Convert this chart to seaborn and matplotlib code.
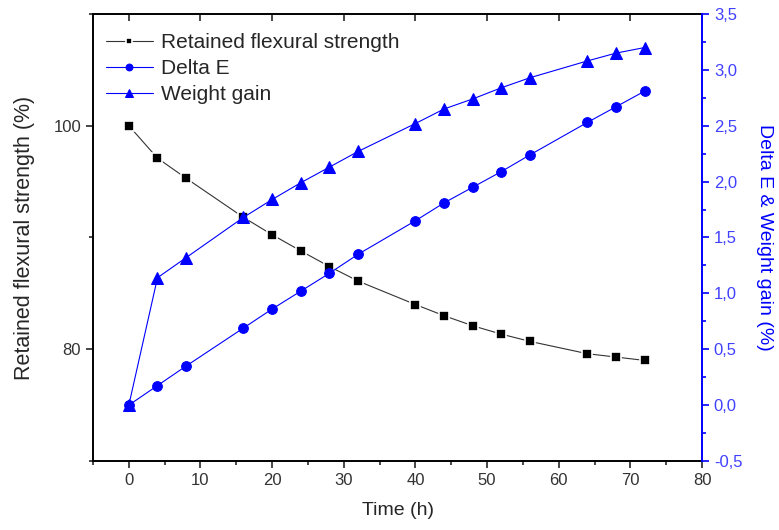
import matplotlib
matplotlib.use("Agg")
import matplotlib.pyplot as plt
import seaborn as sns
from matplotlib.ticker import MultipleLocator, FuncFormatter

# datos
tiempo = [0, 4, 8, 16, 20, 24, 28, 32, 40, 44, 48, 52, 56, 64, 68, 72]
resistencia = [100.0, 97.1, 95.3, 91.8, 90.25, 88.8, 87.4, 86.1, 84.0, 83.0, 82.1, 81.35, 80.7, 79.6, 79.3, 79.0]
delta_e = [0.0, 0.175, 0.35, 0.69, 0.86, 1.02, 1.18, 1.35, 1.65, 1.81, 1.95, 2.09, 2.24, 2.53, 2.67, 2.81]
ganancia_peso = [0.0, 1.14, 1.32, 1.68, 1.84, 1.99, 2.13, 2.27, 2.52, 2.65, 2.74, 2.84, 2.93, 3.08, 3.15, 3.20]

sns.set_style("ticks")
plt.rcParams['font.family'] = ['Liberation Sans', 'DejaVu Sans']

azul = '#0000ff'

fig = plt.figure(figsize=(7.79, 5.30), dpi=100)
ax = fig.add_axes([0.1194, 0.1302, 0.7818, 0.8434])
ax2 = ax.twinx()

sns.lineplot(x=tiempo, y=resistencia, ax=ax, color='#333333', linewidth=0.8,
             marker='s', markersize=7, markerfacecolor='black',
             markeredgecolor='white', markeredgewidth=1.2,
             label='Retained flexural strength', legend=False)
sns.lineplot(x=tiempo, y=delta_e, ax=ax2, color=azul, linewidth=0.8,
             marker='o', markersize=7, markerfacecolor=azul, markeredgecolor=azul,
             label='Delta E', legend=False)
sns.lineplot(x=tiempo, y=ganancia_peso, ax=ax2, color=azul, linewidth=0.8,
             marker='^', markersize=9, markerfacecolor=azul, markeredgecolor=azul,
             label='Weight gain', legend=False)

# ejes
ax.set_xlim(-5, 80)
ax.set_ylim(70, 110)
ax2.set_ylim(-0.5, 3.5)

ax.xaxis.set_major_locator(MultipleLocator(10))
ax.xaxis.set_minor_locator(MultipleLocator(5))
ax.yaxis.set_major_locator(MultipleLocator(20))
ax.yaxis.set_minor_locator(MultipleLocator(10))
ax2.yaxis.set_major_locator(MultipleLocator(0.5))
ax2.yaxis.set_minor_locator(MultipleLocator(0.25))
ax2.yaxis.set_major_formatter(FuncFormatter(lambda v, p: f"{v:.1f}".replace('.', ',')))

for s in ['left', 'bottom', 'top']:
    ax.spines[s].set_visible(True)
    ax.spines[s].set_linewidth(1.4)
    ax.spines[s].set_color('black')
ax.spines['right'].set_visible(False)
for s in ['left', 'bottom', 'top']:
    ax2.spines[s].set_visible(False)
ax2.spines['right'].set_visible(True)
ax2.spines['right'].set_color(azul)
ax2.spines['right'].set_linewidth(1.4)

ax.tick_params(axis='both', which='major', direction='out', length=5, width=1.2,
               labelsize=12, labelcolor='#333333', top=False, right=False)
ax.tick_params(axis='both', which='minor', direction='out', length=3, width=1.2,
               top=False, right=False)
ax2.tick_params(axis='y', which='major', direction='out', length=5, width=1.2,
                colors=azul, labelsize=12, labelcolor='#4040ff')
ax2.tick_params(axis='y', which='minor', direction='out', length=3, width=1.2, colors=azul)

# ticks de arriba hacia adentro
top = ax.secondary_xaxis('top')
top.xaxis.set_major_locator(MultipleLocator(10))
top.tick_params(axis='x', which='major', direction='in', length=5, width=1.2, labeltop=False)
top.spines['top'].set_visible(False)

ax.set_xlabel('Time (h)', fontsize=14, labelpad=10)
ax.set_ylabel('Retained flexural strength (%)', fontsize=15.5, labelpad=13)
ax2.set_ylabel('Delta E & Weight gain (%)', fontsize=14, color=azul, rotation=270, labelpad=22)

h1, l1 = ax.get_legend_handles_labels()
h2, l2 = ax2.get_legend_handles_labels()
ax2.legend(h1 + h2, l1 + l2, loc='upper left', frameon=False, fontsize=15,
           handlelength=2.3, handletextpad=0.35, labelspacing=0.33,
           markerscale=0.7, borderaxespad=0.2, bbox_to_anchor=(0.0, 0.985))

fig.savefig('out.png', dpi=100)
